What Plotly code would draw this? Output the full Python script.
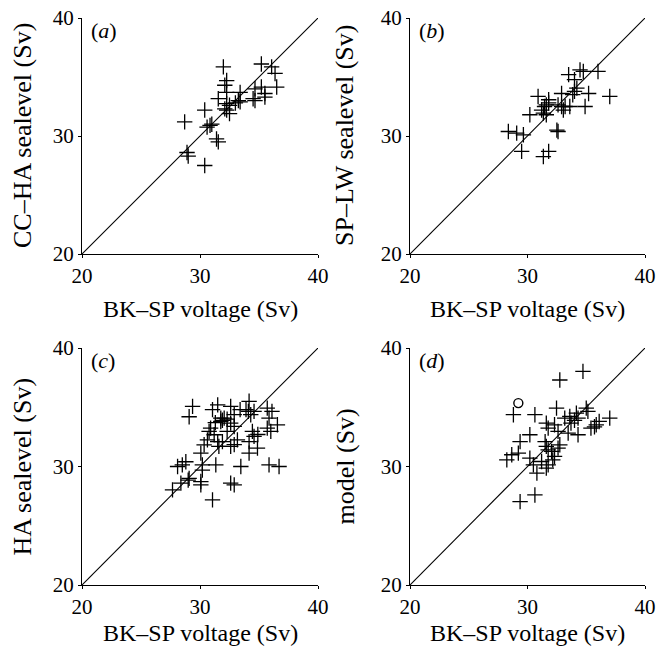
import plotly.graph_objects as go

# Panel (a): BK-SP voltage vs CC-HA sealevel
a_x = [31.98, 35.2, 36.07, 36.36, 36.5, 32.26, 32.1, 32.26, 31.55, 33.4, 34.66, 35.2, 35.5, 35.5,
       34.5, 34.66, 33.25, 33.4, 32.26, 32.5, 32.1, 32.5, 32.26, 30.4, 28.7, 30.85, 30.6, 31.0,
       31.4, 31.55, 28.9, 29.0, 30.4, 33.0]
a_y = [35.86, 36.1, 35.86, 35.3, 34.15, 34.7, 34.3, 33.7, 33.16, 33.7, 34.0, 34.15, 33.6, 33.3,
       33.16, 33.0, 33.0, 32.9, 32.74, 32.6, 32.3, 31.9, 32.2, 32.2, 31.2, 30.9, 30.75, 31.0,
       29.75, 29.5, 28.6, 28.3, 27.5, 32.8]

# Panel (b): BK-SP voltage vs SP-LW sealevel
b_x = [28.37, 29.08, 29.65, 29.5, 30.2, 30.9, 31.2, 31.35, 31.6, 31.8, 31.6, 31.8, 31.45, 31.35,
       31.8, 32.5, 32.6, 32.9, 32.6, 32.9, 33.2, 33.05, 33.5, 34.0, 34.47, 34.75, 34.0, 34.2,
       33.6, 34.9, 35.2, 36.0, 37.0, 33.85]
b_y = [30.38, 30.24, 30.1, 28.7, 31.8, 33.35, 32.2, 31.94, 31.8, 33.07, 32.64, 32.8, 32.5, 28.26,
       28.7, 30.5, 30.38, 33.6, 32.64, 32.5, 32.5, 32.2, 35.2, 34.77, 35.6, 35.47, 33.78, 34.06,
       32.5, 32.5, 33.6, 35.47, 33.35, 33.5]

# Panel (c): BK-SP voltage vs HA sealevel
c_x = [29.37, 29.08, 28.1, 28.5, 28.8, 27.67, 28.38, 29.08, 29.0, 30.07, 30.2, 30.2, 30.07, 30.07,
       30.35, 30.63, 30.9, 31.2, 30.77, 31.06, 31.34, 31.06, 31.5, 31.76, 31.76, 32.05, 32.3,
       31.5, 31.6, 31.9, 32.6, 32.9, 32.6, 32.9, 32.3, 32.6, 33.17, 32.9, 32.6, 32.9, 33.46,
       34.16, 33.9, 34.3, 34.1, 34.58, 34.44, 34.58, 34.16, 34.16, 34.87, 34.9, 35.7, 35.85,
       36.1, 35.7, 36.0, 36.56, 35.85, 36.7, 33.4, 31.3, 31.9]
c_y = [35.07, 34.2, 30.0, 30.14, 30.4, 28.03, 28.6, 29.0, 28.85, 31.13, 30.14, 29.7, 28.73, 28.45,
       31.83, 32.25, 33.24, 32.68, 32.96, 34.8, 30.14, 27.18, 35.2, 34.08, 33.8, 34.08, 34.0,
       32.1, 31.7, 32.1, 35.07, 34.37, 33.66, 33.38, 32.96, 31.7, 32.25, 31.85, 28.6, 28.45, 30.0,
       35.5, 34.8, 34.37, 34.65, 34.65, 32.96, 32.54, 32.1, 31.13, 31.55, 32.7, 34.93, 34.08,
       34.65, 33.24, 32.96, 33.52, 30.14, 30.0, 34.8, 33.7, 33.9]

# Panel (d): BK-SP voltage vs model
d_x = [28.8, 30.63, 29.37, 30.2, 28.24, 28.66, 29.22, 30.2, 30.5, 30.8, 31.2, 31.6, 31.76, 32.3,
       32.15, 29.37, 30.63, 31.6, 31.76, 31.5, 31.6, 31.76, 32.05, 32.47, 32.3, 32.6, 32.75,
       32.6, 32.75, 34.72, 33.17, 33.6, 34.16, 34.3, 35.0, 35.14, 34.3, 33.46, 33.7, 35.4, 35.85,
       36.1, 37.0, 35.7, 34.0]
d_y = [34.37, 34.37, 32.1, 32.68, 30.56, 30.99, 31.13, 30.7, 30.14, 29.44, 30.42, 29.86, 30.14,
       30.85, 30.56, 27.04, 27.6, 33.66, 33.24, 32.1, 31.7, 31.4, 31.27, 34.93, 33.52, 32.96,
       31.83, 31.55, 37.3, 38.03, 34.08, 34.23, 34.5, 34.08, 34.93, 34.65, 32.68, 32.82, 33.66,
       33.24, 33.52, 33.8, 34.08, 33.35, 33.9]
d_circle_x = [29.22]
d_circle_y = [35.35]

diag = [20, 40]
tick_vals = [20, 30, 40]
tick_text = ["20", "30", "40"]
x_title = "BK\u2013SP voltage (Sv)"
y_titles = ["CC\u2013HA sealevel (Sv)", "SP\u2013LW sealevel (Sv)", "HA sealevel (Sv)", "model (Sv)"]
panel_labels = ["(<i>a</i>)", "(<i>b</i>)", "(<i>c</i>)", "(<i>d</i>)"]

W, H = 658, 648
FONT = "Liberation Serif"

fig = go.Figure()

panels = [(a_x, a_y), (b_x, b_y), (c_x, c_y), (d_x, d_y)]
xdoms = [(82, 318), (410, 645), (82, 318), (410, 645)]
ydoms = [(18, 254), (18, 254), (348, 585), (348, 585)]
ytitle_x = [22, 344, 22, 345]
xtitle_dy = [55, 55, 48, 48]


def px_x(v):
    return v / W


def px_y(v):
    return 1 - v / H


for i, (px, py) in enumerate(panels):
    n = "" if i == 0 else str(i + 1)
    fig.add_trace(go.Scatter(x=diag, y=diag, mode="lines", line=dict(color="black", width=1.1),
                             xaxis="x" + n, yaxis="y" + n, showlegend=False, hoverinfo="skip"))
    fig.add_trace(go.Scatter(x=px, y=py, mode="markers",
                             marker=dict(symbol="cross-thin-open", size=11, color="black",
                                         line=dict(color="black", width=1.3)),
                             xaxis="x" + n, yaxis="y" + n, showlegend=False))
    if i == 3:
        fig.add_trace(go.Scatter(x=d_circle_x, y=d_circle_y, mode="markers",
                                 marker=dict(symbol="circle-open", size=9, color="black",
                                             line=dict(color="black", width=1.4)),
                                 xaxis="x4", yaxis="y4", showlegend=False))

    xd = xdoms[i]
    yd = ydoms[i]
    axis_common = dict(range=[20, 40], tickvals=tick_vals, ticktext=tick_text,
                       showline=True, linecolor="black", linewidth=1, mirror=False,
                       ticks="outside", ticklen=3, tickcolor="black", tickwidth=1,
                       showgrid=False, zeroline=False, automargin=False,
                       ticklabeloverflow="allow",
                       tickfont=dict(family=FONT, size=21, color="black"))
    fig.layout["xaxis" + n] = dict(axis_common,
                                   domain=[px_x(xd[0]), px_x(xd[1])],
                                   anchor="y" + n)
    fig.layout["yaxis" + n] = dict(axis_common,
                                   domain=[px_y(yd[1]), px_y(yd[0])],
                                   anchor="x" + n)
    fig.add_annotation(text=x_title, xref="paper", yref="paper",
                       x=px_x((xd[0] + xd[1]) / 2), y=px_y(yd[1] + xtitle_dy[i]),
                       xanchor="center", yanchor="middle", showarrow=False,
                       font=dict(family=FONT, size=24, color="black"))
    fig.add_annotation(text=y_titles[i], xref="paper", yref="paper", textangle=-90,
                       x=px_x(ytitle_x[i]), y=px_y((yd[0] + yd[1]) / 2),
                       xanchor="center", yanchor="middle", showarrow=False,
                       font=dict(family=FONT, size=26, color="black"))
    fig.add_annotation(text=panel_labels[i], xref="x" + n + " domain", yref="y" + n + " domain",
                       x=0.03, y=1.01, xanchor="left", yanchor="top", showarrow=False,
                       font=dict(family=FONT, size=22, color="black"))

fig.update_layout(width=W, height=H, margin=dict(l=0, r=0, t=0, b=0),
                  paper_bgcolor="white", plot_bgcolor="white")

fig.write_html("out.html", config={"displayModeBar": False},
               post_script="document.body.style.margin='0';document.body.style.overflow='hidden';")
